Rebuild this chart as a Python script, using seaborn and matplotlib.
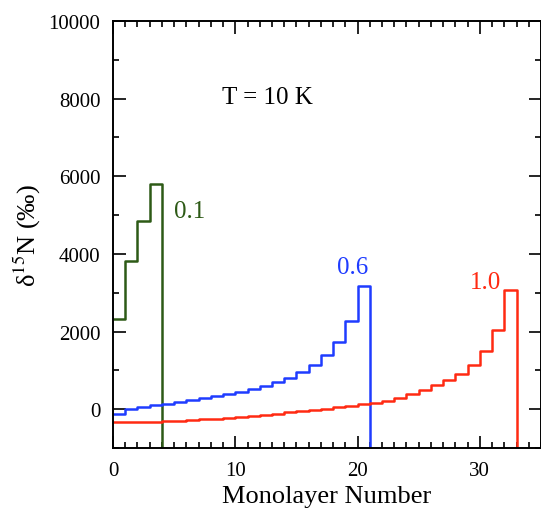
import numpy as np
import pandas as pd
import matplotlib
matplotlib.use("Agg")
import matplotlib.pyplot as plt
import seaborn as sns
from matplotlib.ticker import MultipleLocator

# delta 15N per monolayer
d15n_01 = [2330, 3830, 4840, 5790]
d15n_06 = [-120, 0, 60, 100, 145, 195, 240, 290, 345, 395, 440, 515, 600, 705,
           815, 960, 1150, 1390, 1730, 2275, 3170]
d15n_10 = [-325, -330, -330, -320, -310, -300, -285, -265, -245, -225, -200,
           -170, -145, -115, -85, -55, -25, 10, 45, 85, 130, 170, 215, 300,
           385, 490, 620, 745, 910, 1150, 1500, 2040, 3070]
labels = ["0.1", "0.6", "1.0"]
colors = ["#2d5a16", "#1f3cff", "#ff2a12"]
floor = -1200  # the profile drops off the bottom of the axes after the last layer


def step_frame(vals, name):
    n = len(vals)
    x = list(range(n)) + [n, n]
    y = list(vals) + [vals[-1], floor]
    return pd.DataFrame({"layer": x, "d15N": y, "run": name})


df = pd.concat([step_frame(v, l) for v, l in zip([d15n_01, d15n_06, d15n_10], labels)])

sns.set_style("ticks")
plt.rcParams["font.family"] = ["Liberation Serif", "DejaVu Serif"]
plt.rcParams["mathtext.fontset"] = "stix"
plt.rcParams["text.color"] = "black"
plt.rcParams["axes.labelcolor"] = "black"

fig = plt.figure(figsize=(5.41, 5.10), dpi=100)
ax = fig.add_axes([0.2089, 0.1196, 0.7911, 0.8373])

for lab, col in zip(labels, colors):
    sns.lineplot(data=df[df["run"] == lab], x="layer", y="d15N", ax=ax,
                 drawstyle="steps-post", estimator=None, sort=False,
                 color=col, linewidth=1.8)

ax.set_xlim(0, 35)
ax.set_ylim(-1000, 10000)
ax.xaxis.set_major_locator(MultipleLocator(10))
ax.xaxis.set_minor_locator(MultipleLocator(1))
ax.set_yticks([0, 2000, 4000, 6000, 8000, 10000])
ax.yaxis.set_minor_locator(MultipleLocator(1000))
ax.tick_params(which="both", direction="in", top=True, right=True,
               labelsize=15, width=1.2, colors="black")
ax.tick_params(which="major", length=9)
ax.tick_params(which="minor", length=4.5)
ax.tick_params(axis="y", which="major", pad=9)
ax.tick_params(axis="x", which="major", pad=9)
for s in ax.spines.values():
    s.set_linewidth(1.4)
    s.set_color("black")

ax.set_xlabel("Monolayer Number", fontsize=19, labelpad=4)
ax.set_ylabel("δ$^{15}$N (‰)", fontsize=19, labelpad=4)

ax.text(8.9, 8050, "T = 10 K", fontsize=18, va="center")
ax.text(5.0, 5100, "0.1", color=colors[0], fontsize=18, va="center")
ax.text(18.3, 3650, "0.6", color=colors[1], fontsize=18, va="center")
ax.text(29.2, 3270, "1.0", color=colors[2], fontsize=18, va="center")

fig.savefig("out.png", dpi=100)
